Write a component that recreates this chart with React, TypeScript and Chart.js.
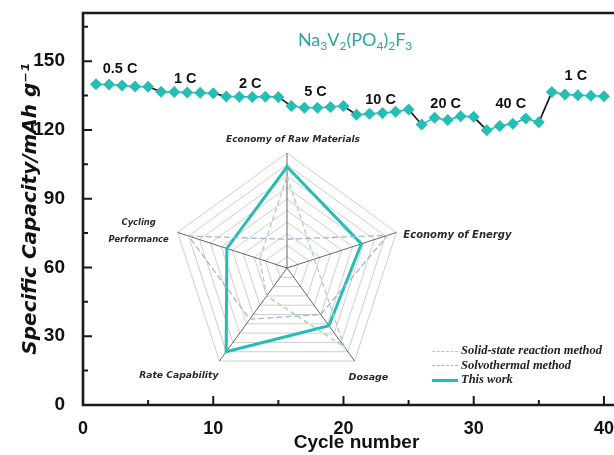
import React, { useEffect, useRef } from "react";
import { Chart, registerables } from "chart.js";
Chart.register(...registerables);

// ---------- data ----------
const cycles = Array.from({ length: 40 }, (_, i) => i + 1);
const capacity = [
  139.9, 139.8, 139.4, 138.9, 138.8,
  136.6, 136.5, 136.3, 136.2, 136.0,
  134.6, 134.5, 134.4, 134.5, 134.4,
  130.4, 129.7, 129.7, 130.0, 130.4,
  126.6, 127.0, 127.4, 127.9, 128.9,
  122.4, 125.3, 124.3, 126.0, 125.7,
  119.9, 121.7, 122.7, 125.0, 123.3,
  136.5, 135.5, 135.1, 134.9, 134.7,
];
const rateGroups = ["0.5 C", "1 C", "2 C", "5 C", "10 C", "20 C", "40 C", "1 C"];
const groupSize = 5;
const rateLabelValues = [146.4, 142.2, 140.2, 136.5, 133.2, 131.5, 131.5, 143.3];
const xTicks = [0, 10, 20, 30, 40];
const xMinorTicks = [5, 15, 25, 35];
const yTicks = [0, 30, 60, 90, 120, 150];
const yMinorTicks = [15, 45, 75, 105, 135, 165];

const radarLabels: (string | string[])[] = [
  "Economy of Raw Materials",
  "Economy of Energy",
  "Dosage",
  "Rate Capability",
  ["Cycling", "Performance"],
];
const solidState = [0.8, 0.25, 0.85, 0.3, 0.25];
const solvothermal = [0.25, 0.92, 0.5, 0.55, 0.9];
const thisWork = [0.88, 0.68, 0.62, 0.9, 0.55];
const legendNames = ["Solid-state reaction method", "Solvothermal method", "This work"];

const TEAL = "#26bdb5";

const framePlugin = {
  id: "frameAndLabels",
  afterDraw(chart: any) {
    const ctx = chart.ctx;
    const { left, right, top, bottom } = chart.chartArea;
    const xs = chart.scales.x;
    const ys = chart.scales.y;
    ctx.save();
    ctx.strokeStyle = "#1a1a1a";
    ctx.lineWidth = 2.6;
    ctx.beginPath();
    ctx.moveTo(right + 5, top);
    ctx.lineTo(left, top);
    ctx.lineTo(left, bottom);
    ctx.lineTo(right + 5, bottom);
    ctx.stroke();
    ctx.lineWidth = 2;
    ctx.beginPath();
    yTicks.forEach((v) => {
      const y = ys.getPixelForValue(v);
      ctx.moveTo(left, y);
      ctx.lineTo(left + 9, y);
    });
    yMinorTicks.forEach((v) => {
      const y = ys.getPixelForValue(v);
      ctx.moveTo(left, y);
      ctx.lineTo(left + 5, y);
    });
    xTicks.forEach((v) => {
      const x = xs.getPixelForValue(v);
      ctx.moveTo(x, bottom);
      ctx.lineTo(x, bottom - 9);
    });
    xMinorTicks.forEach((v) => {
      const x = xs.getPixelForValue(v);
      ctx.moveTo(x, bottom);
      ctx.lineTo(x, bottom - 5);
    });
    ctx.stroke();

    // rate labels
    ctx.fillStyle = "#111";
    ctx.font = "bold 14.5px 'Liberation Sans', Arial, sans-serif";
    ctx.textAlign = "center";
    ctx.textBaseline = "middle";
    rateGroups.forEach((g, i) => {
      const c = cycles[i * groupSize] + (groupSize - 1) / 2;
      ctx.fillText(g, xs.getPixelForValue(c) - 2, ys.getPixelForValue(rateLabelValues[i]));
    });

    // formula Na3V2(PO4)2F3
    const parts: [string, boolean][] = [
      ["Na", false], ["3", true], ["V", false], ["2", true], ["(PO", false], ["4", true], [")", false], ["2", true], ["F", false], ["3", true],
    ];
    ctx.fillStyle = "#2aa79f";
    ctx.textAlign = "left";
    ctx.textBaseline = "alphabetic";
    let x = xs.getPixelForValue(16.5);
    const base = ys.getPixelForValue(156.5);
    parts.forEach(([t, sub]) => {
      ctx.font = sub ? "12px 'Lato', sans-serif" : "18px 'Lato', sans-serif";
      ctx.fillText(t, x, sub ? base + 4 : base);
      x += ctx.measureText(t).width;
    });
    ctx.restore();
  },
};

// label placement relative to each spoke's outer vertex: [dx, dy, align, fontSize]
const radarLabelStyle: [number, number, CanvasTextAlign, number][] = [
  [6, -13, "center", 9],
  [7, 3, "left", 10],
  [-6, 16, "left", 9.5],
  [-1, 15, "right", 9.2],
  [-39, -10, "center", 8.4],
];

const radarLabelPlugin = {
  id: "radarLabels",
  afterDraw(chart: any) {
    const ctx = chart.ctx;
    const r = chart.scales.r;
    ctx.save();
    ctx.fillStyle = "#2b2b2b";
    ctx.textBaseline = "middle";
    radarLabels.forEach((lab, i) => {
      const p = r.getPointPosition(i, r.drawingArea);
      const [dx, dy, align, size] = radarLabelStyle[i];
      ctx.font = `italic bold ${size}px 'DejaVu Sans', sans-serif`;
      ctx.textAlign = align;
      const lines = Array.isArray(lab) ? lab : [lab];
      lines.forEach((ln, k) => ctx.fillText(ln, p.x + dx, p.y + dy + k * 17));
    });
    ctx.restore();
  },
};

export default function App() {
  const mainRef = useRef<HTMLCanvasElement>(null);
  const radarRef = useRef<HTMLCanvasElement>(null);

  useEffect(() => {
    const main = new Chart(mainRef.current!, {
      type: "line",
      data: {
        labels: cycles,
        datasets: [
          {
            data: cycles.map((c, i) => ({ x: c, y: capacity[i] })),
            borderColor: TEAL,
            borderWidth: 1.6,
            pointStyle: "rectRot",
            pointRadius: 6,
            pointBackgroundColor: TEAL,
            pointBorderColor: TEAL,
            pointBorderWidth: 0,
            segment: {
              borderColor: (ctx: any) =>
                Math.floor(ctx.p0DataIndex / groupSize) !== Math.floor(ctx.p1DataIndex / groupSize) ? "#111" : TEAL,
            },
          } as any,
        ],
      },
      options: {
        animation: false,
        responsive: false,
        layout: { padding: { left: 0, right: 10, top: 13, bottom: 0 } },
        plugins: { legend: { display: false }, tooltip: { enabled: false } },
        scales: {
          x: {
            type: "linear",
            min: 0,
            max: 42,
            afterBuildTicks: (s: any) => { s.ticks = xTicks.map((v) => ({ value: v })); },
            afterFit: (s: any) => { s.height = 50; s.paddingLeft = 0; s.paddingRight = 0; },
            grid: { display: false },
            border: { display: false },
            ticks: { color: "#111", font: { size: 18, weight: "bold", family: "'Liberation Sans', Arial" }, padding: 5, maxRotation: 0 },
            title: { display: true, text: "Cycle number", color: "#111", font: { size: 19, weight: "bold", family: "'Liberation Sans', Arial" }, padding: { top: 0, bottom: 1 } },
          },
          y: {
            min: 0,
            max: 171,
            afterBuildTicks: (s: any) => { s.ticks = yTicks.map((v) => ({ value: v })); },
            afterFit: (s: any) => { s.width = 83; s.paddingTop = 0; s.paddingBottom = 0; },
            grid: { display: false },
            border: { display: false },
            ticks: { color: "#111", font: { size: 19, weight: "bold", family: "'Liberation Sans', Arial" }, padding: 10 },
            title: { display: true, text: "Specific Capacity/mAh g⁻¹", color: "#111", font: { size: 20, style: "italic", weight: "bold", family: "'DejaVu Sans', sans-serif" }, padding: { top: 19, bottom: 0 } },
          },
        },
      },
      plugins: [framePlugin],
    } as any);

    const radar = new Chart(radarRef.current!, {
      type: "radar",
      data: {
        labels: radarLabels,
        datasets: [
          { label: legendNames[0], data: solidState, borderColor: "#a8d4a8", borderDash: [5, 3], borderWidth: 1.3, pointRadius: 0, fill: false },
          { label: legendNames[1], data: solvothermal, borderColor: "#a3b5db", borderDash: [6, 3], borderWidth: 1.3, pointRadius: 0, fill: false },
          { label: legendNames[2], data: thisWork, borderColor: TEAL, borderWidth: 3, pointRadius: 0, fill: false },
        ],
      },
      options: {
        animation: false,
        responsive: false,
        layout: { padding: { left: 72, right: 138, top: 28, bottom: 12 } },
        plugins: { legend: { display: false }, tooltip: { enabled: false } },
        scales: {
          r: {
            min: 0,
            max: 1,
            ticks: { display: false, stepSize: 0.1 },
            grid: { color: "#c4c0c0", lineWidth: 0.8 },
            angleLines: { color: "#555", lineWidth: 0.9 },
            pointLabels: { display: false },
          },
        },
      },
      plugins: [radarLabelPlugin],
    } as any);

    return () => {
      main.destroy();
      radar.destroy();
    };
  }, []);

  const legendLine = (style: React.CSSProperties) => (
    <span style={{ display: "inline-block", width: 26, marginRight: 3, verticalAlign: "middle", ...style }} />
  );

  return (
    <div style={{ position: "fixed", left: 0, top: 0, width: 614, height: 455, overflow: "hidden", background: "#fff" }}>
      <canvas ref={mainRef} width={640} height={455} style={{ position: "absolute", left: 0, top: 0 }} />
      <canvas ref={radarRef} width={440} height={270} style={{ position: "absolute", left: 100, top: 125 }} />
      <div style={{ position: "absolute", left: 432, top: 343, font: "italic bold 12.5px 'Liberation Serif', serif", color: "#222", lineHeight: "14.5px", whiteSpace: "nowrap" }}>
        <div>{legendLine({ borderTop: "1.5px dashed #a8d4a8" })}{legendNames[0]}</div>
        <div>{legendLine({ borderTop: "1.5px dashed #a3b5db" })}{legendNames[1]}</div>
        <div>{legendLine({ borderTop: "3px solid " + TEAL })}{legendNames[2]}</div>
      </div>
    </div>
  );
}
